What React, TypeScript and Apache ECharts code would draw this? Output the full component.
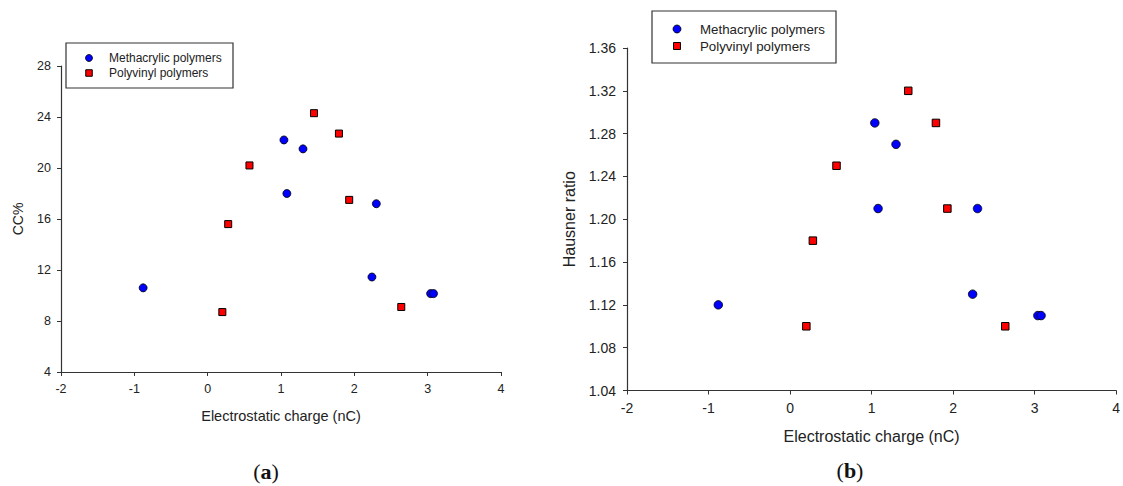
import React, { useEffect, useRef } from "react";
import * as echarts from "echarts";

// Shared electrostatic charge (nC) values
const methX = [-0.88, 1.04, 1.3, 1.08, 2.3, 2.24, 3.04, 3.08];
const polyX = [0.2, 0.28, 0.57, 1.45, 1.79, 1.93, 2.64];

// (a) CC%
const methCC = [10.6, 22.2, 21.5, 18.0, 17.2, 11.45, 10.15, 10.15];
const polyCC = [8.7, 15.6, 20.2, 24.3, 22.7, 17.5, 9.1];

// (b) Hausner ratio
const methHR = [1.12, 1.29, 1.27, 1.21, 1.21, 1.13, 1.11, 1.11];
const polyHR = [1.1, 1.18, 1.25, 1.32, 1.29, 1.21, 1.1];

const seriesNames = ["Methacrylic polymers", "Polyvinyl polymers"];
const captions = ["a", "b"];

const zip = (xs: number[], ys: number[]) => xs.map((x, i) => [x, ys[i]]);

const FONT = "Liberation Sans, Arial, sans-serif";
const TXT = "#222";
const AX = "#333";

export default function App() {
  const ref = useRef<HTMLDivElement>(null);
  useEffect(() => {
    if (!ref.current) return;
    const chart = echarts.init(ref.current, null, { renderer: "svg" });

    const xAxisBase = (gi: number, fs: number, gap: number) => ({
      type: "value",
      gridIndex: gi,
      min: -2,
      max: 4,
      interval: 1,
      name: "Electrostatic charge (nC)",
      nameLocation: "middle",
      nameGap: gap,
      nameTextStyle: { fontFamily: FONT, fontSize: fs, color: TXT },
      axisLine: { onZero: false, lineStyle: { color: AX, width: 1.2 } },
      axisTick: { show: true, length: 4, inside: false, lineStyle: { color: AX } },
      axisLabel: { fontFamily: FONT, fontSize: fs - 2, color: TXT, margin: 10 },
      splitLine: { show: false },
    });

    const circle = (size: number) => ({
      symbol: "circle",
      symbolSize: size,
      itemStyle: { color: "#0000ff", borderColor: "#000", borderWidth: 0.8, opacity: 1 },
    });
    const square = (size: number) => ({
      symbol: "rect",
      symbolSize: size,
      itemStyle: { color: "#ff0000", borderColor: "#000", borderWidth: 1, opacity: 1 },
    });

    const legend = (
      x: number,
      y: number,
      w: number,
      h: number,
      iconX: number,
      textX: number,
      y1: number,
      y2: number,
      fs: number,
      r: number,
      sq: number
    ) => [
      {
        type: "rect",
        shape: { x, y, width: w, height: h },
        style: { fill: "#fff", stroke: "#333", lineWidth: 1.2 },
        z: 10,
      },
      {
        type: "circle",
        shape: { cx: iconX, cy: y1, r },
        style: { fill: "#0000ff", stroke: "#000", lineWidth: 0.8 },
        z: 11,
      },
      {
        type: "rect",
        shape: { x: iconX - sq / 2, y: y2 - sq / 2, width: sq, height: sq },
        style: { fill: "#ff0000", stroke: "#000", lineWidth: 1 },
        z: 11,
      },
      {
        type: "text",
        x: textX,
        y: y1,
        style: {
          text: seriesNames[0],
          font: `${fs}px ${FONT}`,
          fill: TXT,
          textAlign: "left",
          textVerticalAlign: "middle",
        },
        z: 11,
      },
      {
        type: "text",
        x: textX,
        y: y2,
        style: {
          text: seriesNames[1],
          font: `${fs}px ${FONT}`,
          fill: TXT,
          textAlign: "left",
          textVerticalAlign: "middle",
        },
        z: 11,
      },
    ];

    const caption = (cx: number, cy: number, letter: string) => ({
      type: "text",
      x: cx,
      y: cy,
      style: {
        text: `{p|(}{b|${letter}}{p|)}`,
        textAlign: "center",
        textVerticalAlign: "middle",
        rich: {
          p: { fontFamily: "Liberation Serif, serif", fontSize: 22, fill: "#111", color: "#111" },
          b: {
            fontFamily: "Liberation Serif, serif",
            fontSize: 22,
            fontWeight: "bold",
            fill: "#111",
            color: "#111",
          },
        },
      },
    });

    chart.setOption({
      animation: false,
      backgroundColor: "#fff",
      grid: [
        { left: 61, top: 66, width: 440, height: 306, containLabel: false },
        { left: 627, top: 48, width: 490, height: 342.5, containLabel: false },
      ],
      xAxis: [xAxisBase(0, 14.5, 36), xAxisBase(1, 16, 38)],
      yAxis: [
        {
          type: "value",
          gridIndex: 0,
          min: 4,
          max: 28,
          interval: 4,
          name: "CC%",
          nameLocation: "middle",
          nameGap: 36,
          nameTextStyle: { fontFamily: FONT, fontSize: 14, color: TXT },
          axisLine: { show: true, onZero: false, lineStyle: { color: AX, width: 1.2 } },
          axisTick: { show: true, length: 4, lineStyle: { color: AX } },
          axisLabel: { fontFamily: FONT, fontSize: 12.5, color: TXT, margin: 10 },
          splitLine: { show: false },
        },
        {
          type: "value",
          gridIndex: 1,
          min: 1.04,
          max: 1.36,
          interval: 0.04,
          name: "Hausner ratio",
          nameLocation: "middle",
          nameGap: 50,
          nameTextStyle: { fontFamily: FONT, fontSize: 16, color: TXT },
          axisLine: { show: true, onZero: false, lineStyle: { color: AX, width: 1.2 } },
          axisTick: { show: true, length: 4, lineStyle: { color: AX } },
          axisLabel: {
            fontFamily: FONT,
            fontSize: 14,
            color: TXT,
            margin: 11,
            formatter: (v: number) => v.toFixed(2),
          },
          splitLine: { show: false },
        },
      ],
      series: [
        {
          name: seriesNames[0],
          type: "scatter",
          xAxisIndex: 0,
          yAxisIndex: 0,
          data: zip(methX, methCC),
          ...circle(8),
        },
        {
          name: seriesNames[1],
          type: "scatter",
          xAxisIndex: 0,
          yAxisIndex: 0,
          data: zip(polyX, polyCC),
          ...square(7),
        },
        {
          name: seriesNames[0],
          type: "scatter",
          xAxisIndex: 1,
          yAxisIndex: 1,
          data: zip(methX, methHR),
          ...circle(8.5),
        },
        {
          name: seriesNames[1],
          type: "scatter",
          xAxisIndex: 1,
          yAxisIndex: 1,
          data: zip(polyX, polyHR),
          ...square(7.5),
        },
      ],
      graphic: [
        ...legend(66, 43, 167, 45, 89, 109, 58, 73, 12, 3.5, 6.5),
        ...legend(652, 11, 184, 52, 677, 700, 29, 46, 13.3, 4, 7),
        caption(266, 471, captions[0]),
        caption(850, 470, captions[1]),
      ],
    });
    return () => chart.dispose();
  }, []);
  return (
    <div
      ref={ref}
      style={{ position: "fixed", left: 0, top: 0, width: 1123, height: 486, background: "#fff" }}
    />
  );
}
